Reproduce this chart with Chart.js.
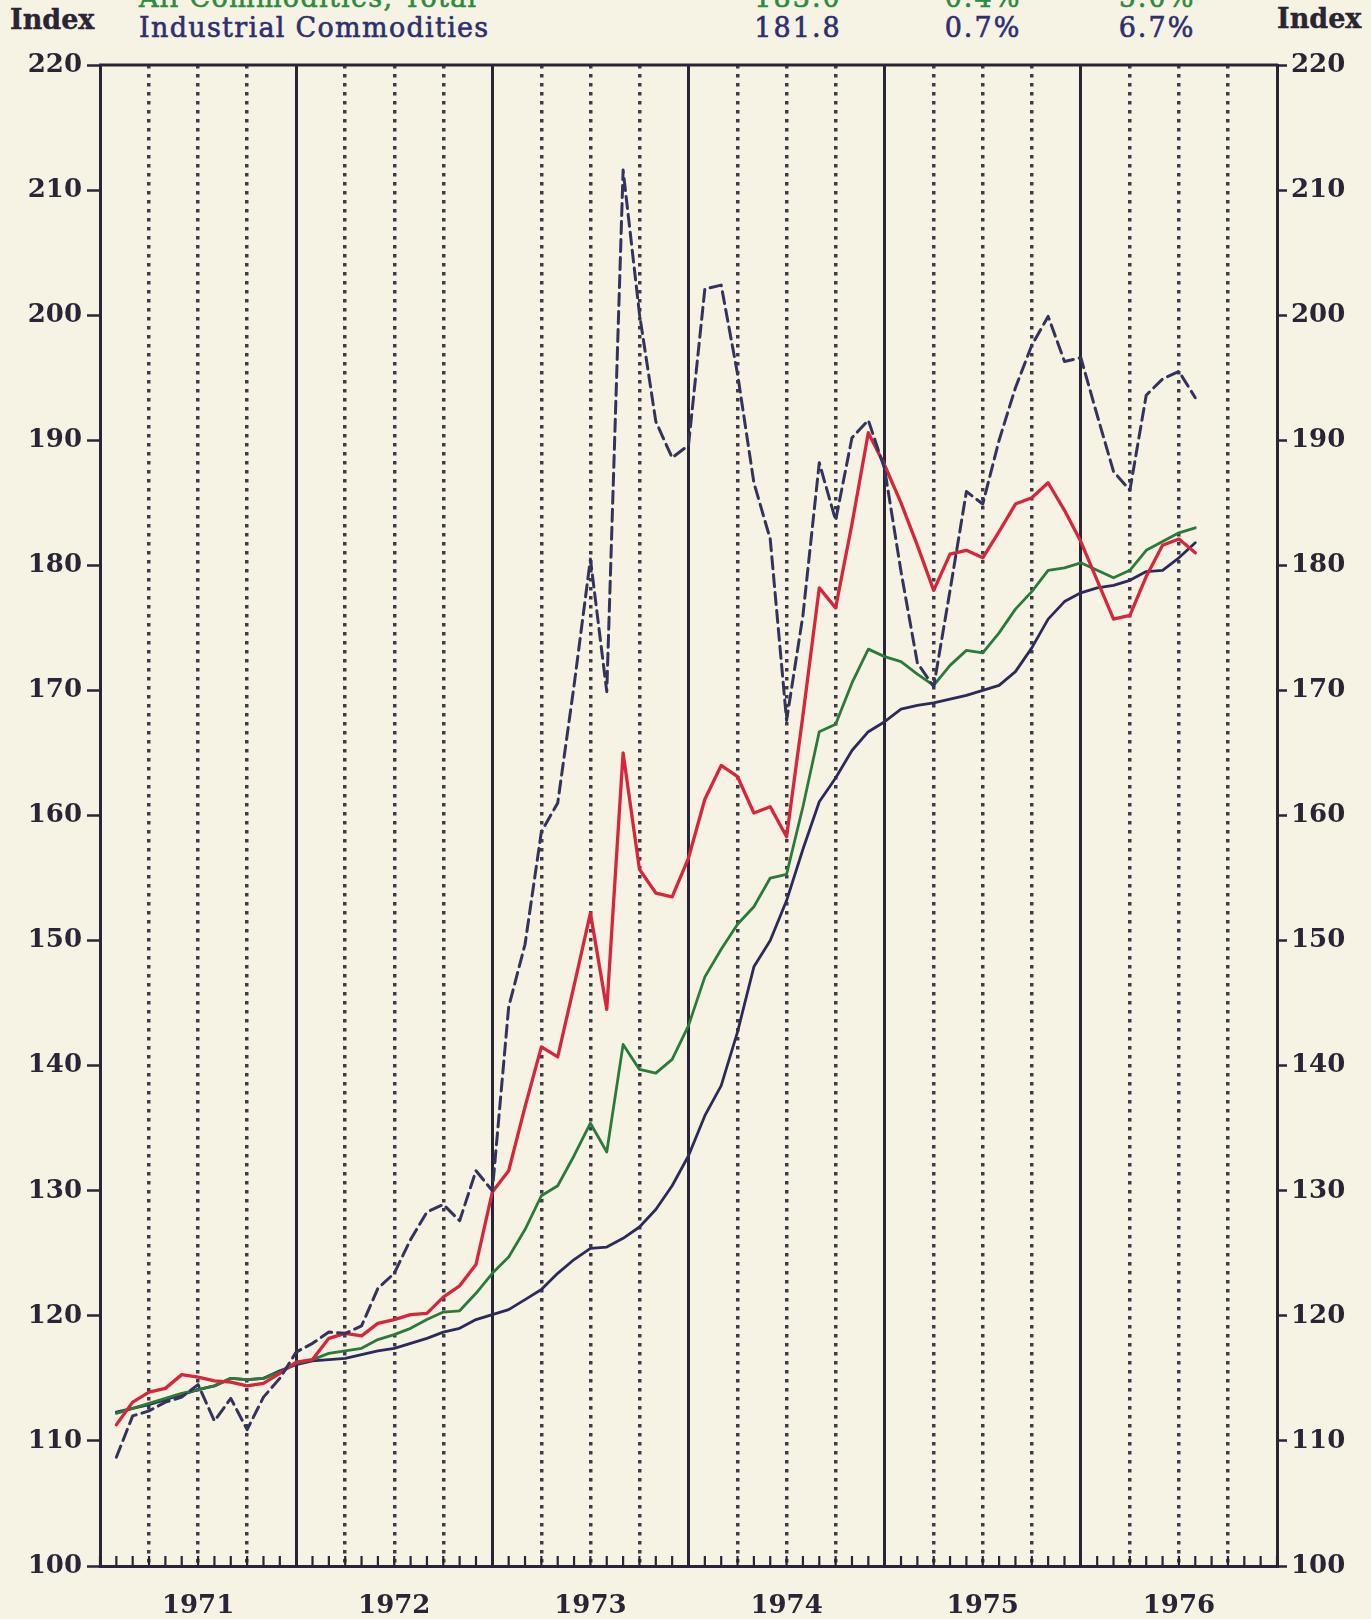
<!DOCTYPE html>
<html>
<head>
<meta charset="utf-8">
<title>Wholesale Price Indexes 1971-1976</title>
<script src="https://cdn.jsdelivr.net/npm/chart.js@4.4.1/dist/chart.umd.min.js"></script>
<style>
  html, body { margin: 0; padding: 0; }
  body {
    width: 1371px; height: 1619px; position: relative; overflow: hidden;
    background: #f6f3e4; font-family: 'DejaVu Serif', serif;
  }
  #chart { position: absolute; left: 0; top: 0; }
  .hdr { position: absolute; white-space: nowrap; line-height: 1; font-size: 27px; letter-spacing: 1.3px; -webkit-text-stroke: 0.6px; }
  .bold { font-weight: bold; font-size: 27px; color: #2a2532; letter-spacing: 0; -webkit-text-stroke: 0.4px; }
  .green { color: #2f8a3e; }
  .navy { color: #2e2f6e; }
  .num { width: 120px; text-align: center; letter-spacing: 2px; }
</style>
</head>
<body>

<div class="hdr bold" style="left:10px; top:6px;">Index</div>
<div class="hdr bold" style="left:1277px; top:5px;">Index</div>

<div class="hdr green" style="left:139px; top:-16px;">All Commodities, Total</div>
<div class="hdr green num" style="left:738px; top:-16px;">183.0</div>
<div class="hdr green num" style="left:923px; top:-16px;">0.4%</div>
<div class="hdr green num" style="left:1097px; top:-16px;">5.0%</div>

<div class="hdr navy" style="left:139px; top:14px;">Industrial Commodities</div>
<div class="hdr navy num" style="left:738px; top:14px;">181.8</div>
<div class="hdr navy num" style="left:923px; top:14px;">0.7%</div>
<div class="hdr navy num" style="left:1097px; top:14px;">6.7%</div>

<canvas id="chart" width="1371" height="1619"></canvas>

<script>
// ---- Data: monthly index values (1967 = 100), Jan 1971 .. Jul 1976 ----
const yearLabels = ['1971', '1972', '1973', '1974', '1975', '1976'];

const farmProducts = [
  108.7, 112.0, 112.4, 113.1, 113.5, 114.5, 111.6, 113.4, 110.9, 113.5, 115.0, 117.1,
  117.8, 118.7, 118.6, 119.2, 122.2, 123.4, 126.1, 128.3, 128.9, 127.6, 131.6, 130.0,
  144.7, 149.7, 158.7, 161.0, 170.4, 180.5, 169.9, 211.6, 200.1, 191.5, 188.6, 189.6,
  202.1, 202.4, 195.3, 186.6, 182.1, 167.6, 176.0, 188.2, 183.6, 190.2, 191.6, 187.7,
  179.5, 172.2, 170.3, 178.0, 185.9, 184.9, 190.0, 194.2, 197.6, 199.9, 196.3, 196.6,
  192.0, 187.5, 186.0, 193.6, 194.9, 195.5, 193.4
];

const processedFoods = [
  111.3, 113.1, 113.9, 114.2, 115.3, 115.1, 114.8, 114.7, 114.4, 114.6, 115.4, 116.3,
  116.5, 118.2, 118.6, 118.4, 119.4, 119.7, 120.1, 120.2, 121.5, 122.4, 124.1, 129.9,
  131.6, 136.7, 141.5, 140.7, 146.4, 152.2, 144.5, 165.0, 155.7, 153.8, 153.5, 156.6,
  161.3, 164.0, 163.1, 160.2, 160.7, 158.3, 168.0, 178.2, 176.6, 183.3, 190.6, 188.0,
  185.0, 181.6, 178.0, 180.9, 181.2, 180.6, 182.7, 184.9, 185.4, 186.6, 184.4, 181.9,
  178.8, 175.7, 176.0, 179.1, 181.6, 182.1, 181.0
];

const allCommodities = [
  112.2, 112.6, 113.0, 113.4, 113.8, 114.1, 114.4, 115.0, 114.9, 115.0, 115.5, 116.2,
  116.5, 117.0, 117.2, 117.4, 118.1, 118.5, 119.0, 119.7, 120.3, 120.4, 121.8, 123.4,
  124.7, 126.9, 129.6, 130.4, 132.8, 135.4, 133.1, 141.7, 139.7, 139.4, 140.5, 143.2,
  147.1, 149.3, 151.3, 152.7, 155.0, 155.3, 160.7, 166.7, 167.3, 170.6, 173.3, 172.7,
  172.3, 171.3, 170.4, 172.0, 173.2, 173.0, 174.6, 176.5, 177.9, 179.6, 179.8, 180.2,
  179.6, 179.0, 179.6, 181.2, 181.9, 182.6, 183.0
];

const industrialCommodities = [
  112.3, 112.6, 112.9, 113.3, 113.7, 114.1, 114.4, 115.0, 114.9, 115.0, 115.6, 116.1,
  116.4, 116.5, 116.6, 116.9, 117.2, 117.4, 117.8, 118.2, 118.7, 119.0, 119.7, 120.1,
  120.5, 121.3, 122.1, 123.4, 124.5, 125.4, 125.5, 126.2, 127.1, 128.5, 130.4, 132.8,
  136.0, 138.4, 142.7, 147.9, 150.0, 153.2, 157.3, 161.1, 163.0, 165.2, 166.7, 167.5,
  168.5, 168.8, 169.0, 169.3, 169.6, 170.0, 170.4, 171.5, 173.4, 175.7, 177.1, 177.8,
  178.2, 178.4, 178.8, 179.5, 179.6, 180.6, 181.8
];

// ---- Styling ----
const AXIS_COLOR = '#2a2536';
const DOT_COLOR  = '#3e3a4c';
const TICK_FONT  = { family: "'DejaVu Serif', serif", size: 26, weight: 'bold' };

// month n (1 = Jan 1971) sits at the end of its month slot
const toPoints = arr => arr.map((v, i) => ({ x: i + 1, y: v }));
const monthTicks = Array.from({ length: 73 }, (_, i) => i);

const tickVal = c => (c.tick ? c.tick.value : -1);

// ---- Frame top line + inward monthly ticks ----
const framePlugin = {
  id: 'frame',
  afterDraw(chart) {
    const { ctx, chartArea: a, scales: { x } } = chart;
    ctx.save();
    ctx.strokeStyle = AXIS_COLOR;
    ctx.lineWidth = 3;
    ctx.beginPath();
    ctx.moveTo(a.left - 1, a.top);
    ctx.lineTo(a.right + 1, a.top);
    ctx.stroke();
    ctx.lineWidth = 2.2;
    ctx.beginPath();
    monthTicks.forEach(m => {
      const px = x.getPixelForValue(m);
      ctx.moveTo(px, a.bottom);
      ctx.lineTo(px, a.bottom - 10);
    });
    ctx.stroke();
    ctx.restore();
  }
};

new Chart(document.getElementById('chart'), {
  type: 'line',
  data: {
    datasets: [
      { label: 'Farm Products', data: toPoints(farmProducts),
        borderColor: '#33335c', borderWidth: 3, borderDash: [12, 6] },
      { label: 'Processed Foods and Feeds', data: toPoints(processedFoods),
        borderColor: '#d6263c', borderWidth: 3.3 },
      { label: 'All Commodities, Total', data: toPoints(allCommodities),
        borderColor: '#2b7a3c', borderWidth: 2.8 },
      { label: 'Industrial Commodities', data: toPoints(industrialCommodities),
        borderColor: '#2b2a58', borderWidth: 2.8 }
    ]
  },
  options: {
    responsive: false,
    animation: false,
    devicePixelRatio: 1,
    layout: { padding: { top: 65, left: 0, right: 0, bottom: 0 } },
    elements: { point: { radius: 0 }, line: { tension: 0, borderCapStyle: 'round', borderJoinStyle: 'round' } },
    plugins: { legend: { display: false }, tooltip: { enabled: false } },
    scales: {
      x: {
        type: 'linear', min: 0, max: 72,
        afterBuildTicks: s => { s.ticks = monthTicks.map(v => ({ value: v })); },
        afterFit: s => { s.height = 53; },
        grid: {
          drawTicks: false,
          color: c => tickVal(c) % 12 === 0 ? AXIS_COLOR : (tickVal(c) % 3 === 0 ? DOT_COLOR : 'rgba(0,0,0,0)'),
          lineWidth: c => tickVal(c) % 12 === 0 ? 3 : 3.5
        },
        border: {
          color: AXIS_COLOR, width: 3,
          dash: c => (c.tick && c.tick.value % 12 !== 0) ? [3.5, 5.5] : []
        },
        ticks: {
          autoSkip: false, maxRotation: 0, padding: 25,
          color: AXIS_COLOR, font: TICK_FONT,
          callback: v => (v % 12 === 6 ? yearLabels[(v - 6) / 12] : '')
        }
      },
      y: {
        position: 'left', min: 100, max: 220,
        afterFit: s => { s.width = 100; },
        grid: { drawOnChartArea: false, tickLength: 13, tickColor: AXIS_COLOR, tickWidth: 2.5 },
        border: { color: AXIS_COLOR, width: 3 },
        ticks: { stepSize: 10, padding: 5, color: AXIS_COLOR, font: TICK_FONT }
      },
      y2: {
        position: 'right', min: 100, max: 220,
        afterFit: s => { s.width = 94; },
        grid: { drawOnChartArea: false, tickLength: 10, tickColor: AXIS_COLOR, tickWidth: 2.5 },
        border: { color: AXIS_COLOR, width: 3 },
        ticks: { stepSize: 10, padding: 4, color: AXIS_COLOR, font: TICK_FONT }
      }
    }
  },
  plugins: [framePlugin]
});
</script>
</body>
</html>
